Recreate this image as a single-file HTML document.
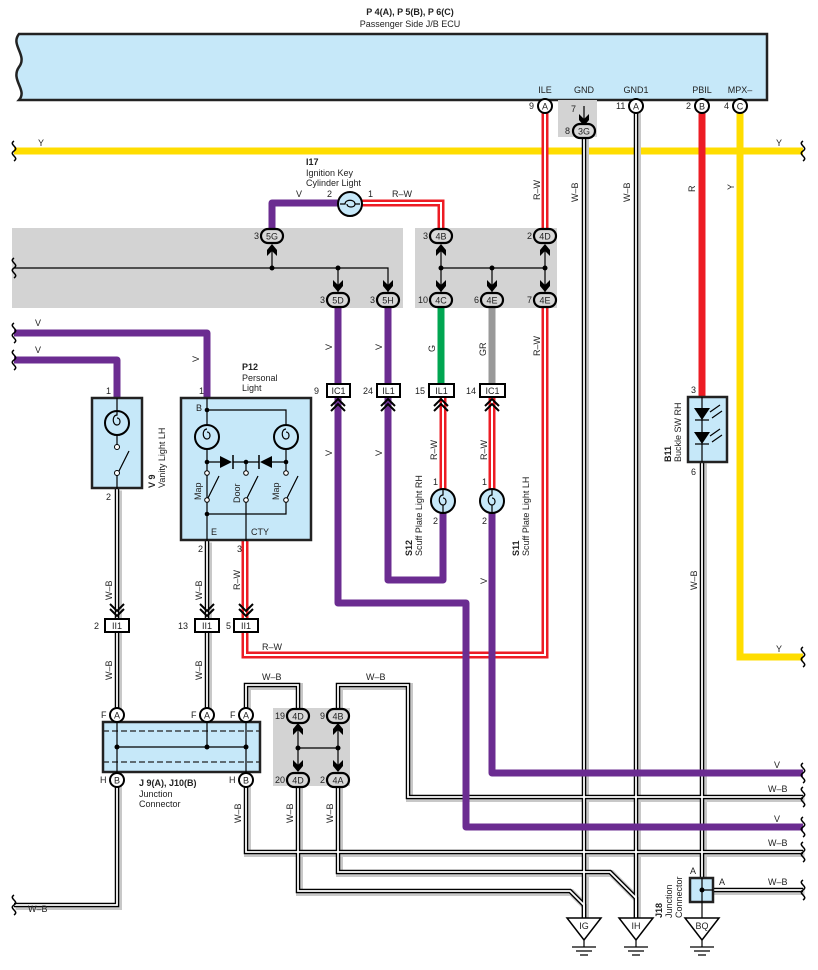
<!DOCTYPE html>
<html><head><meta charset="utf-8"><style>
html,body{margin:0;padding:0;background:#fff}
svg{display:block}
text{font-family:"Liberation Sans",sans-serif;font-size:9px;fill:#222}
.b{font-weight:bold}
.wbk{stroke:#000;stroke-width:4.5;fill:none}
.wbw{stroke:#fff;stroke-width:1.8;fill:none}
.wbs{stroke:#c8c8c8;stroke-width:7;fill:none}
.rwr{stroke:#ed1c24;stroke-width:7;fill:none}
.rww{stroke:#fff;stroke-width:2;fill:none}
.v{stroke:#6b2c91;stroke-width:7;fill:none;stroke-linejoin:round}
.y{stroke:#ffdd00;stroke-width:7;fill:none}
.th{stroke:#000;stroke-width:1.2;fill:none}
.con{fill:#d8d8d8;stroke:#000;stroke-width:2.2}
.pin{fill:#fff;stroke:#000;stroke-width:2}
.box{fill:#c6e8f9;stroke:#222;stroke-width:2.5}
.sq{fill:#fff;stroke:#000;stroke-width:2}
</style></head><body>
<svg width="818" height="970" viewBox="0 0 818 970" xmlns="http://www.w3.org/2000/svg">
<defs>
<path id="brace" d="M0,-10 C-6,-6 6,-4 0,0 C-6,4 6,6 0,10" fill="none" stroke="#000" stroke-width="1.5"/>
<path id="arrD" d="M-5,-6 L0,-1 L5,-6 L5,0 L0,6 L-5,0 Z" fill="#000"/>
<path id="chevU" d="M-7,4 L0,-3 L7,4 M-7,9 L0,2 L7,9" fill="none" stroke="#000" stroke-width="2"/>
<path id="chevD" d="M-7,-4 L0,3 L7,-4 M-7,-9 L0,-2 L7,-9" fill="none" stroke="#000" stroke-width="2"/>
<path id="wbA" d="M117,489 V905 H14"/>
<path id="wbB" d="M207,541 V715"/>
<path id="wbC" d="M246,780 V852 H803"/>
<path id="wbD" d="M246,715 V685 H298 V716"/>
<path id="wbE" d="M338,716 V685 H408 V797 H803"/>
<path id="wbF" d="M298,780 V891 H570 L584,905 V920"/>
<path id="wbG" d="M338,780 V872 H610 L636,898 V920"/>
<path id="wbH" d="M584,131 V920"/>
<path id="wbI" d="M636,106 V920"/>
<path id="wbJ" d="M702,462 V890 H803"/>
<path id="rwA" d="M545,106 V236"/>
<path id="rwB" d="M545,300 V655 H245 V541"/>
<path id="rwC" d="M362,203 H441 V236"/>
<path id="rwD" d="M443,390 V490"/>
<path id="rwE" d="M492,390 V490"/>
</defs>

<text x="410" y="15" text-anchor="middle" class="b">P 4(A), P 5(B), P 6(C)</text>
<text x="410" y="27" text-anchor="middle">Passenger Side J/B ECU</text>
<path d="M19,34 H767 V100 H19 C28,90 10,80 19,67 C28,55 10,45 19,34 Z" class="box"/>
<text x="545" y="93" text-anchor="middle">ILE</text>
<text x="584" y="93" text-anchor="middle">GND</text>
<text x="636" y="93" text-anchor="middle">GND1</text>
<text x="702" y="93" text-anchor="middle">PBIL</text>
<text x="740" y="93" text-anchor="middle">MPX–</text>
<rect x="558" y="100" width="39" height="37" fill="#d3d3d3"/>

<rect x="12" y="228" width="391" height="80" fill="#d3d3d3"/>
<rect x="415" y="228" width="142" height="80" fill="#d3d3d3"/>
<rect x="273" y="708" width="77" height="78" fill="#d3d3d3"/>

<path d="M14,151 H803" class="y"/>
<use href="#brace" x="14" y="151"/><use href="#brace" x="803" y="151"/>
<text x="38" y="146">Y</text><text x="776" y="146">Y</text>
<path d="M740,110 V657 H803" class="y"/>
<use href="#brace" x="803" y="657"/><text x="776" y="652">Y</text>
<text transform="translate(734,190) rotate(-90)">Y</text>

<g>
<use href="#wbA" class="wbs" transform="translate(1.5,1.5)"/><use href="#wbB" class="wbs" transform="translate(1.5,1.5)"/><use href="#wbC" class="wbs" transform="translate(1.5,1.5)"/><use href="#wbD" class="wbs" transform="translate(1.5,1.5)"/><use href="#wbE" class="wbs" transform="translate(1.5,1.5)"/><use href="#wbF" class="wbs" transform="translate(1.5,1.5)"/><use href="#wbG" class="wbs" transform="translate(1.5,1.5)"/><use href="#wbH" class="wbs" transform="translate(1.5,1.5)"/><use href="#wbI" class="wbs" transform="translate(1.5,1.5)"/><use href="#wbJ" class="wbs" transform="translate(1.5,1.5)"/>
<use href="#wbA" class="wbk"/><use href="#wbB" class="wbk"/><use href="#wbC" class="wbk"/><use href="#wbD" class="wbk"/><use href="#wbE" class="wbk"/><use href="#wbF" class="wbk"/><use href="#wbG" class="wbk"/><use href="#wbH" class="wbk"/><use href="#wbI" class="wbk"/><use href="#wbJ" class="wbk"/>
<use href="#wbA" class="wbw"/><use href="#wbB" class="wbw"/><use href="#wbC" class="wbw"/><use href="#wbD" class="wbw"/><use href="#wbE" class="wbw"/><use href="#wbF" class="wbw"/><use href="#wbG" class="wbw"/><use href="#wbH" class="wbw"/><use href="#wbI" class="wbw"/><use href="#wbJ" class="wbw"/>
</g>
<use href="#brace" x="14" y="905"/><use href="#brace" x="803" y="852"/><use href="#brace" x="803" y="797"/><use href="#brace" x="803" y="890"/>
<text x="28" y="912">W–B</text>
<text x="768" y="846">W–B</text><text x="768" y="792">W–B</text><text x="768" y="885">W–B</text>
<text x="262" y="680">W–B</text><text x="366" y="680">W–B</text>
<text transform="translate(578,202) rotate(-90)">W–B</text>
<text transform="translate(630,202) rotate(-90)">W–B</text>
<text transform="translate(112,600) rotate(-90)">W–B</text>
<text transform="translate(112,680) rotate(-90)">W–B</text>
<text transform="translate(202,600) rotate(-90)">W–B</text>
<text transform="translate(202,680) rotate(-90)">W–B</text>
<text transform="translate(241,823) rotate(-90)">W–B</text>
<text transform="translate(293,823) rotate(-90)">W–B</text>
<text transform="translate(333,823) rotate(-90)">W–B</text>
<text transform="translate(697,590) rotate(-90)">W–B</text>

<use href="#rwA" class="rwr"/><use href="#rwB" class="rwr"/><use href="#rwC" class="rwr"/><use href="#rwD" class="rwr"/><use href="#rwE" class="rwr"/>
<use href="#rwA" class="rww"/><use href="#rwB" class="rww"/><use href="#rwC" class="rww"/><use href="#rwD" class="rww"/><use href="#rwE" class="rww"/>
<text x="392" y="197">R–W</text>
<text x="262" y="650">R–W</text>
<text transform="translate(540,200) rotate(-90)">R–W</text>
<text transform="translate(540,356) rotate(-90)">R–W</text>
<text transform="translate(437,460) rotate(-90)">R–W</text>
<text transform="translate(487,460) rotate(-90)">R–W</text>
<text transform="translate(240,590) rotate(-90)">R–W</text>

<path d="M702,110 V397" stroke="#ed1c24" stroke-width="7" fill="none"/>
<text transform="translate(695,192) rotate(-90)">R</text>
<path d="M441,300 V384" stroke="#00a651" stroke-width="7"/>
<path d="M492,300 V384" stroke="#999" stroke-width="7"/>
<text transform="translate(435,352) rotate(-90)">G</text>
<text transform="translate(486,356) rotate(-90)">GR</text>

<path d="M14,333 H207 V398" class="v"/>
<path d="M14,360 H117 V398" class="v"/>
<use href="#brace" x="14" y="333"/><use href="#brace" x="14" y="360"/>
<text x="35" y="326">V</text><text x="35" y="353">V</text>
<text transform="translate(199,362) rotate(-90)">V</text>
<path d="M272,236 V203 H338" class="v"/>
<text x="296" y="197">V</text>
<path d="M338,300 V384" class="v"/>
<path d="M388,300 V384" class="v"/>
<path d="M338,397 V603 H466 V827 H803" class="v"/>
<path d="M388,397 V580 H443 V512" class="v"/>
<path d="M492,512 V773 H803" class="v"/>
<use href="#brace" x="803" y="773"/><use href="#brace" x="803" y="827"/>
<text x="774" y="768">V</text><text x="774" y="822">V</text>
<text transform="translate(332,350) rotate(-90)">V</text>
<text transform="translate(382,350) rotate(-90)">V</text>
<text transform="translate(332,456) rotate(-90)">V</text>
<text transform="translate(382,456) rotate(-90)">V</text>
<text transform="translate(487,584) rotate(-90)">V</text>

<path d="M14,268 H388 V292 M272,268 V246 M338,268 V292 M441,246 V292 M545,246 V292 M441,268 H545 M492,268 V292 M584,106 V124" class="th"/>
<use href="#brace" x="14" y="268"/>
<circle cx="272" cy="268" r="2.5"/><circle cx="338" cy="268" r="2.5"/><circle cx="441" cy="268" r="2.5"/><circle cx="492" cy="268" r="2.5"/><circle cx="545" cy="268" r="2.5"/>
<use href="#arrD" x="338" y="286"/><use href="#arrD" x="388" y="286"/><use href="#arrD" x="441" y="286"/><use href="#arrD" x="492" y="286"/><use href="#arrD" x="545" y="286"/><use href="#arrD" x="584" y="120"/>
<use href="#arrD" transform="translate(272,250) scale(1,-1)"/><use href="#arrD" transform="translate(441,250) scale(1,-1)"/><use href="#arrD" transform="translate(545,250) scale(1,-1)"/>

<g>
<rect x="261" y="229" width="22" height="14" rx="7" class="con"/><text x="272" y="239.5" text-anchor="middle">5G</text><text x="254" y="239">3</text>
<rect x="327" y="293" width="22" height="14" rx="7" class="con"/><text x="338" y="303.5" text-anchor="middle">5D</text><text x="320" y="303">3</text>
<rect x="377" y="293" width="22" height="14" rx="7" class="con"/><text x="388" y="303.5" text-anchor="middle">5H</text><text x="370" y="303">3</text>
<rect x="430" y="229" width="22" height="14" rx="7" class="con"/><text x="441" y="239.5" text-anchor="middle">4B</text><text x="423" y="239">3</text>
<rect x="534" y="229" width="22" height="14" rx="7" class="con"/><text x="545" y="239.5" text-anchor="middle">4D</text><text x="527" y="239">2</text>
<rect x="430" y="293" width="22" height="14" rx="7" class="con"/><text x="441" y="303.5" text-anchor="middle">4C</text><text x="418" y="303">10</text>
<rect x="481" y="293" width="22" height="14" rx="7" class="con"/><text x="492" y="303.5" text-anchor="middle">4E</text><text x="474" y="303">6</text>
<rect x="534" y="293" width="22" height="14" rx="7" class="con"/><text x="545" y="303.5" text-anchor="middle">4E</text><text x="527" y="303">7</text>
<rect x="573" y="124" width="22" height="14" rx="7" class="con"/><text x="584" y="134.5" text-anchor="middle">3G</text><text x="565" y="134">8</text><text x="571" y="112">7</text>
<rect x="287" y="709" width="22" height="14" rx="7" class="con"/><text x="298" y="719.5" text-anchor="middle">4D</text><text x="275" y="719">19</text>
<rect x="327" y="709" width="22" height="14" rx="7" class="con"/><text x="338" y="719.5" text-anchor="middle">4B</text><text x="320" y="719">9</text>
<rect x="287" y="773" width="22" height="14" rx="7" class="con"/><text x="298" y="783.5" text-anchor="middle">4D</text><text x="275" y="783">20</text>
<rect x="327" y="773" width="22" height="14" rx="7" class="con"/><text x="338" y="783.5" text-anchor="middle">4A</text><text x="320" y="783">2</text>
</g>
<path d="M298,725 V771 M338,725 V771 M298,748 H338" class="th"/>
<circle cx="298" cy="748" r="2.5"/><circle cx="338" cy="748" r="2.5"/>
<use href="#arrD" transform="translate(298,729) scale(1,-1)"/><use href="#arrD" transform="translate(338,729) scale(1,-1)"/>
<use href="#arrD" x="298" y="766"/><use href="#arrD" x="338" y="766"/>

<circle cx="545" cy="106" r="7" class="pin"/><text x="545" y="109.5" text-anchor="middle">A</text><text x="529" y="109">9</text>
<circle cx="636" cy="106" r="7" class="pin"/><text x="636" y="109.5" text-anchor="middle">A</text><text x="616" y="109">11</text>
<circle cx="702" cy="106" r="7" class="pin"/><text x="702" y="109.5" text-anchor="middle">B</text><text x="686" y="109">2</text>
<circle cx="740" cy="106" r="7" class="pin"/><text x="740" y="109.5" text-anchor="middle">C</text><text x="724" y="109">4</text>

<rect x="327" y="384" width="23" height="13" class="sq"/><text x="338.5" y="394" text-anchor="middle">IC1</text><text x="314" y="394">9</text>
<rect x="377" y="384" width="23" height="13" class="sq"/><text x="388.5" y="394" text-anchor="middle">IL1</text><text x="363" y="394">24</text>
<rect x="429" y="384" width="25" height="13" class="sq"/><text x="441.5" y="394" text-anchor="middle">IL1</text><text x="415" y="394">15</text>
<rect x="480" y="384" width="25" height="13" class="sq"/><text x="492.5" y="394" text-anchor="middle">IC1</text><text x="466" y="394">14</text>
<use href="#chevU" x="338" y="402"/><use href="#chevU" x="388" y="402"/><use href="#chevU" x="441" y="402"/><use href="#chevU" x="492" y="402"/>
<rect x="105" y="619" width="24" height="13" class="sq"/><text x="117" y="629" text-anchor="middle">II1</text><text x="94" y="629">2</text>
<rect x="195" y="619" width="24" height="13" class="sq"/><text x="207" y="629" text-anchor="middle">II1</text><text x="178" y="629">13</text>
<rect x="234" y="619" width="24" height="13" class="sq"/><text x="246" y="629" text-anchor="middle">II1</text><text x="226" y="629">5</text>
<use href="#chevD" x="117" y="613"/><use href="#chevD" x="207" y="613"/><use href="#chevD" x="246" y="613"/>

<text x="306" y="165" class="b">I17</text>
<text x="306" y="176">Ignition Key</text><text x="306" y="186">Cylinder Light</text>
<text x="327" y="197">2</text><text x="368" y="197">1</text>
<circle cx="350" cy="204" r="12" fill="#c6e8f9" stroke="#000" stroke-width="2"/>
<path d="M340,204 H345 C345,199 355,199 355,204 C355,208 347,208 347,204 M355,204 H360" class="th"/>

<circle cx="443" cy="501" r="12" fill="#c6e8f9" stroke="#000" stroke-width="2"/>
<path d="M443,490 V495 C438,495 438,505 443,505 C447,505 447,498 443,498 M443,505 V512" class="th"/>
<circle cx="492" cy="501" r="12" fill="#c6e8f9" stroke="#000" stroke-width="2"/>
<path d="M492,490 V495 C487,495 487,505 492,505 C496,505 496,498 492,498 M492,505 V512" class="th"/>
<text x="433" y="485">1</text><text x="433" y="524">2</text><text x="482" y="485">1</text><text x="482" y="524">2</text>
<text transform="translate(412,556) rotate(-90)" class="b">S12</text>
<text transform="translate(422,556) rotate(-90)">Scuff Plate Light RH</text>
<text transform="translate(519,556) rotate(-90)" class="b">S11</text>
<text transform="translate(529,556) rotate(-90)">Scuff Plate Light LH</text>

<rect x="92" y="398" width="50" height="90" class="box"/>
<text x="106" y="394">1</text><text x="106" y="500">2</text>
<circle cx="117" cy="423" r="12" fill="none" stroke="#000" stroke-width="2"/>
<path d="M117,398 V415 C112,415 112,425 117,425 C121,425 121,418 117,418 M117,435 V445 M117,475 V489 M117,475 L129,451" class="th"/>
<circle cx="117" cy="447" r="2.5" fill="#fff" stroke="#000"/><circle cx="117" cy="473" r="2.5" fill="#fff" stroke="#000"/>
<text transform="translate(155,488) rotate(-90)" class="b">V 9</text>
<text transform="translate(165,488) rotate(-90)">Vanity Light LH</text>

<text x="242" y="370" class="b">P12</text><text x="242" y="381">Personal</text><text x="242" y="391">Light</text>
<rect x="181" y="398" width="130" height="142" class="box"/>
<text x="199" y="394">1</text><text x="196" y="411">B</text>
<path d="M207,398 V424 M207,450 V541 M207,410 H286 V424 M286,450 V471 M207,462 H220 M233,462 H259 M272,462 H286 M246,462 V471 M207,514 H286 V500 M246,500 V541 M207,500 L219,476 M246,500 L258,476 M286,500 L298,476" class="th"/>
<circle cx="207" cy="437" r="12" fill="none" stroke="#000" stroke-width="2"/>
<circle cx="286" cy="437" r="12" fill="none" stroke="#000" stroke-width="2"/>
<path d="M207,429 C202,429 202,439 207,439 C211,439 211,432 207,432 M286,429 C281,429 281,439 286,439 C290,439 290,432 286,432" class="th"/>
<path d="M220,456 L232,462 L220,468 Z M272,456 L260,462 L272,468 Z" fill="#000"/>
<path d="M233,455 V469 M259,455 V469" stroke="#000" stroke-width="1.5"/>
<circle cx="207" cy="410" r="2.3"/><circle cx="207" cy="462" r="2.3"/><circle cx="246" cy="462" r="2.3"/><circle cx="286" cy="462" r="2.3"/><circle cx="207" cy="514" r="2.3"/>
<g fill="#fff" stroke="#000"><circle cx="207" cy="473" r="2.3"/><circle cx="207" cy="500" r="2.3"/><circle cx="246" cy="473" r="2.3"/><circle cx="246" cy="500" r="2.3"/><circle cx="286" cy="473" r="2.3"/><circle cx="286" cy="500" r="2.3"/></g>
<text transform="translate(201,500) rotate(-90)">Map</text>
<text transform="translate(240,503) rotate(-90)">Door</text>
<text transform="translate(279,500) rotate(-90)">Map</text>
<text x="211" y="535">E</text><text x="251" y="535">CTY</text>
<text x="198" y="552">2</text><text x="237" y="552">3</text>

<rect x="103" y="722" width="157" height="50" class="box"/>
<path d="M103,731 H260 M103,762 H260" stroke="#222" stroke-width="1.3" stroke-dasharray="6,3"/>
<path d="M117,722 V772 M246,722 V772 M207,722 V747 M117,747 H246" class="th"/>
<circle cx="117" cy="747" r="2.5"/><circle cx="207" cy="747" r="2.5"/><circle cx="246" cy="747" r="2.5"/>
<circle cx="117" cy="715" r="7" class="pin"/><text x="117" y="718.5" text-anchor="middle">A</text><text x="101" y="718">F</text>
<circle cx="207" cy="715" r="7" class="pin"/><text x="207" y="718.5" text-anchor="middle">A</text><text x="191" y="718">F</text>
<circle cx="246" cy="715" r="7" class="pin"/><text x="246" y="718.5" text-anchor="middle">A</text><text x="230" y="718">F</text>
<circle cx="117" cy="780" r="7" class="pin"/><text x="117" y="783.5" text-anchor="middle">B</text><text x="100" y="783">H</text>
<circle cx="246" cy="780" r="7" class="pin"/><text x="246" y="783.5" text-anchor="middle">B</text><text x="229" y="783">H</text>
<text x="139" y="786" class="b">J 9(A), J10(B)</text><text x="139" y="797">Junction</text><text x="139" y="807">Connector</text>

<rect x="688" y="397" width="39" height="65" class="box"/>
<path d="M702,397 V462 M695,420 H709 M695,444 H709" class="th"/>
<path d="M694,408 L710,408 L702,420 Z M694,432 L710,432 L702,444 Z" fill="#000"/>
<path d="M710,412 L720,405 M712,418 L722,411 M710,436 L720,429 M712,442 L722,435" stroke="#000" stroke-width="1.2"/>
<text x="691" y="393">3</text><text x="691" y="475">6</text>
<text transform="translate(671,462) rotate(-90)" class="b">B11</text>
<text transform="translate(681,462) rotate(-90)">Buckle SW RH</text>

<rect x="690" y="878" width="23" height="24" class="box"/>
<path d="M702,878 V920 M702,890 H713" class="th"/><circle cx="702" cy="890" r="2.5"/>
<text x="690" y="874">A</text><text x="719" y="885">A</text>
<text transform="translate(662,918) rotate(-90)" class="b">J18</text>
<text transform="translate(672,918) rotate(-90)">Junction</text>
<text transform="translate(682,918) rotate(-90)">Connector</text>

<g stroke="#000" stroke-width="1.5" fill="#fff">
<path d="M567,918 H601 L584,940 Z"/><path d="M619,918 H653 L636,940 Z"/><path d="M685,918 H719 L702,940 Z"/>
</g>
<g stroke="#000" stroke-width="1.2">
<path d="M584,940 V947 M572,947 H596 M576,951 H592 M580,955 H588"/>
<path d="M636,940 V947 M624,947 H648 M628,951 H644 M632,955 H640"/>
<path d="M702,940 V947 M690,947 H714 M694,951 H710 M698,955 H706"/>
</g>
<text x="584" y="929" text-anchor="middle">IG</text><text x="636" y="929" text-anchor="middle">IH</text><text x="702" y="929" text-anchor="middle">BQ</text>
</svg>
</body></html>
